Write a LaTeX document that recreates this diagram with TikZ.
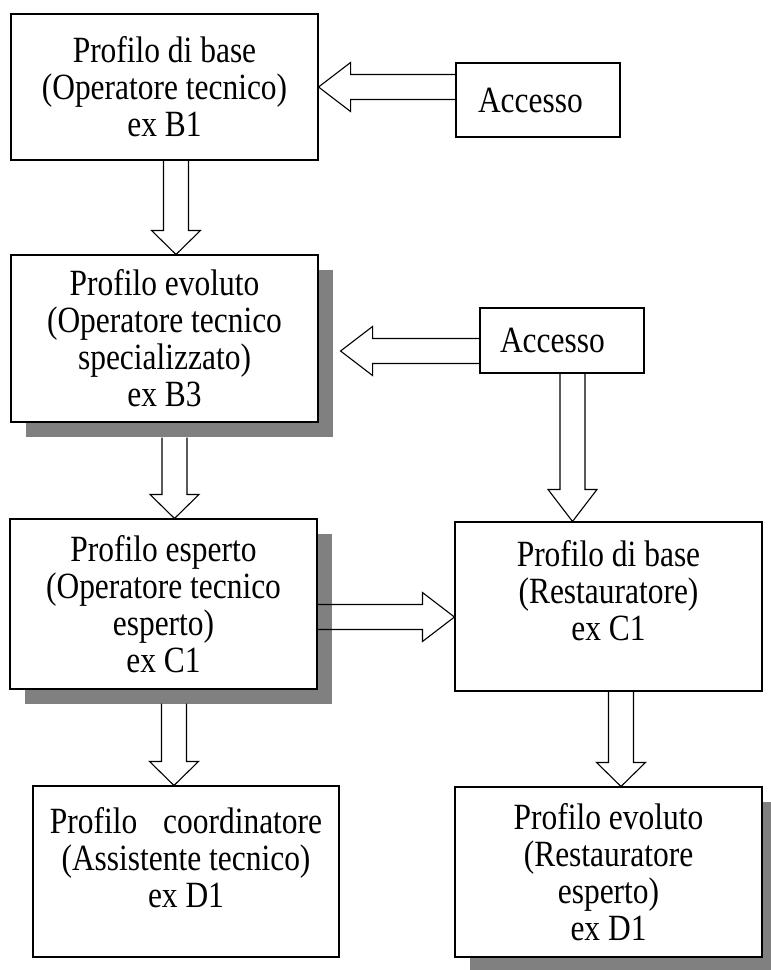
\documentclass[tikz,border=0pt]{standalone}
\usepackage{fontspec}
\setmainfont{Liberation Serif}[FakeStretch=0.85]
\usetikzlibrary{shadows}
\newcommand{\shaftW}{12.5pt}
\newcommand{\headW}{24.5pt}
\newcommand{\headH}{32pt}
% hollow block arrows: #2 from, #3 to, #4 axis, #1 head length
\newcommand{\fatdown}[4][24pt]{%
  \draw[fatarr] ([xshift=-\shaftW]#2 -| #4) -- ([xshift=-\shaftW,yshift=#1]#3 -| #4)
    -- ([xshift=-\headW,yshift=#1]#3 -| #4) -- (#3 -| #4)
    -- ([xshift=\headW,yshift=#1]#3 -| #4) -- ([xshift=\shaftW,yshift=#1]#3 -| #4)
    -- ([xshift=\shaftW]#2 -| #4);}
\newcommand{\fatleft}[3]{%
  \draw[fatarr] ([yshift=\shaftW]#1 |- #3) -- ([xshift=\headH,yshift=\shaftW]#2 |- #3)
    -- ([xshift=\headH,yshift=\headW]#2 |- #3) -- (#2 |- #3)
    -- ([xshift=\headH,yshift=-\headW]#2 |- #3) -- ([xshift=\headH,yshift=-\shaftW]#2 |- #3)
    -- ([yshift=-\shaftW]#1 |- #3);}
\newcommand{\fatright}[3]{%
  \draw[fatarr] ([yshift=\shaftW]#1 |- #3) -- ([xshift=-\headH,yshift=\shaftW]#2 |- #3)
    -- ([xshift=-\headH,yshift=\headW]#2 |- #3) -- (#2 |- #3)
    -- ([xshift=-\headH,yshift=-\headW]#2 |- #3) -- ([xshift=-\headH,yshift=-\shaftW]#2 |- #3)
    -- ([yshift=-\shaftW]#1 |- #3);}

\begin{document}
\begin{tikzpicture}[x=1pt, y=-1pt,
  profbox/.style={draw, line width=1.1pt, fill=white, align=center, inner sep=0pt,
    minimum width=307pt, font=\fontsize{37}{37}\selectfont},
  accbox/.style={profbox, minimum width=164pt, align=left},
  shadowed/.style={drop shadow={shadow xshift=15pt, shadow yshift=-15pt, fill=black!50, opacity=1}},
  fatarr/.style={line width=1.1pt, line join=miter}]

	\useasboundingbox (0,0) rectangle (771,970);
	% Operatore tecnico
	\node[profbox, minimum height=146pt] (opbase) at (164.5,87) {Profilo di base\\(Operatore tecnico)\\ex B1};
	\node[profbox, shadowed, minimum height=167pt] (opevoluto) at (164.5,338.5) {Profilo evoluto\\(Operatore tecnico\\specializzato)\\ex B3};
	\node[profbox, shadowed, minimum height=170pt] (opesperto) at (163.5,604) {Profilo esperto\\(Operatore tecnico\\esperto)\\ex C1};
	\node[profbox, minimum width=306pt, minimum height=171pt, text depth=28pt] (opcoord) at (186,871.5) {Profilo\hspace{26pt}coordinatore\\(Assistente tecnico)\\ex D1};
	% Restauratore
	\node[profbox, minimum height=169pt, text depth=32pt] (resbase) at (608.5,606.5) {Profilo di base\\(Restauratore)\\ex C1};
	\node[profbox, shadowed, minimum height=170pt] (resevoluto) at (608.5,872) {Profilo evoluto\\(Restauratore\\esperto)\\ex D1};
	% Accesso
	\node[accbox, minimum height=74pt, text width=120pt] (accA) at (538,100) {Accesso};
	\node[accbox, minimum height=65pt, text width=124pt] (accB) at (562,340.5) {Accesso};
	%
	\coordinate (ax1) at (176,0);
	\coordinate (ax2) at (174.5,0);
	\coordinate (ax3) at (174,0);
	\coordinate (ax4) at (572.5,0);
	\coordinate (ax5) at (621,0);
	\coordinate (ay1) at (0,87);
	\coordinate (ay2) at (0,351);
	\coordinate (ay3) at (0,617);
	\coordinate (tipB) at ([xshift=22pt]opevoluto.east);
	\coordinate (shadowB) at ([yshift=-15pt]opevoluto.south);
	\coordinate (shadowC) at ([yshift=-14pt]opesperto.south);
	%
	\fatleft{accA.west}{opbase.east}{ay1}
	\fatleft{accB.west}{tipB}{ay2}
	\fatright{opesperto.east}{resbase.west}{ay3}
	\fatdown{opbase.south}{opevoluto.north}{ax1}
	\fatdown{shadowB}{opesperto.north}{ax2}
	\fatdown{shadowC}{opcoord.north}{ax3}
	\fatdown[32pt]{accB.south}{resbase.north}{ax4}
	\fatdown{resbase.south}{resevoluto.north}{ax5}
\end{tikzpicture}
\end{document}
